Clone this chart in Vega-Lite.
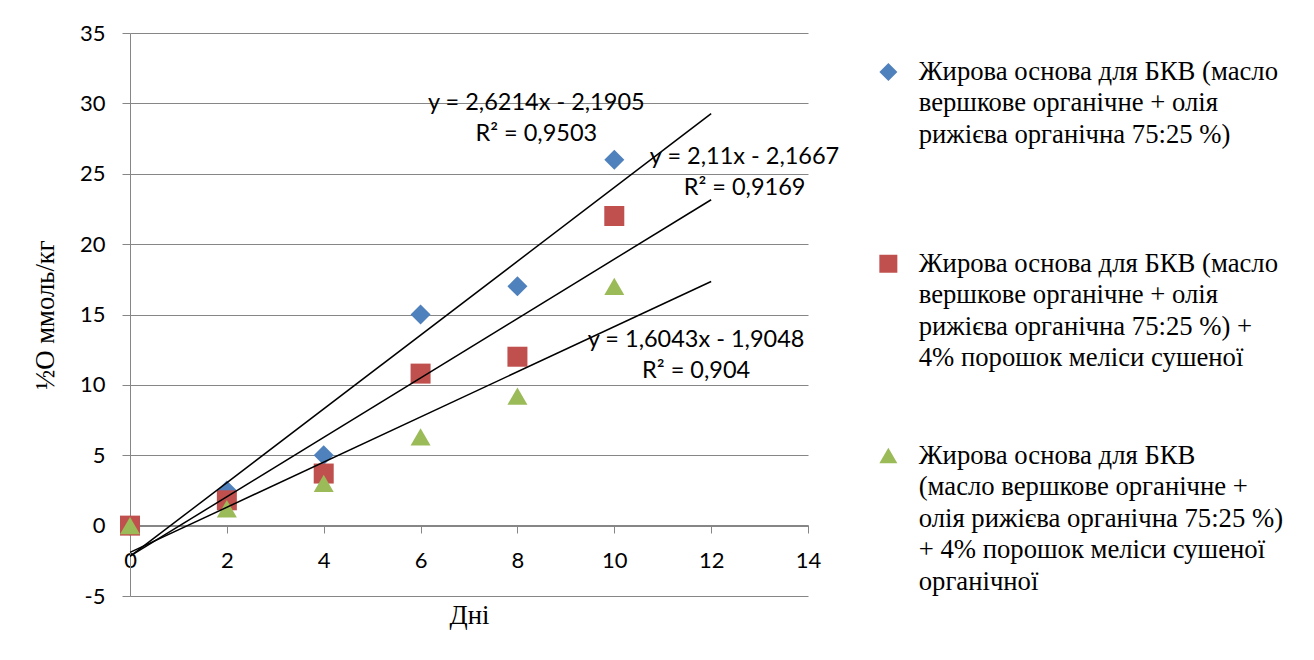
{
  "$schema": "https://vega.github.io/schema/vega-lite/v6.json",
  "width": 678,
  "height": 563,
  "autosize": {"type": "none"},
  "padding": {"left": 130, "top": 33, "right": 506, "bottom": 64},
  "background": "white",
  "config": {
    "view": {"stroke": null},
    "style": {"guide-label": {"lineHeight": 31.5}},
    "legend": {
      "orient": "none",
      "legendX": 745,
      "legendY": 25.6,
      "padding": 0,
      "labelFont": "Liberation Serif",
      "labelFontSize": 26.7,
      "labelColor": "black",
      "labelLimit": 600,
      "labelBaseline": "middle",
      "labelOffset": 17,
      "symbolSize": 324,
      "symbolStrokeWidth": 0,
      "symbolOpacity": 1,
      "rowPadding": 37.8,
      "gridAlign": "all"
    }
  },
  "datasets": {
    "points": [
      {"series": "Жирова основа для БКВ (масло\nвершкове органічне + олія\nрижієва органічна 75:25 %)", "x": 0, "y": 0},
      {"series": "Жирова основа для БКВ (масло\nвершкове органічне + олія\nрижієва органічна 75:25 %)", "x": 2, "y": 2.5},
      {"series": "Жирова основа для БКВ (масло\nвершкове органічне + олія\nрижієва органічна 75:25 %)", "x": 4, "y": 5},
      {"series": "Жирова основа для БКВ (масло\nвершкове органічне + олія\nрижієва органічна 75:25 %)", "x": 6, "y": 15},
      {"series": "Жирова основа для БКВ (масло\nвершкове органічне + олія\nрижієва органічна 75:25 %)", "x": 8, "y": 17},
      {"series": "Жирова основа для БКВ (масло\nвершкове органічне + олія\nрижієва органічна 75:25 %)", "x": 10, "y": 26},
      {"series": "Жирова основа для БКВ (масло\nвершкове органічне + олія\nрижієва органічна 75:25 %) +\n4%  порошок меліси  сушеної", "x": 0, "y": 0},
      {"series": "Жирова основа для БКВ (масло\nвершкове органічне + олія\nрижієва органічна 75:25 %) +\n4%  порошок меліси  сушеної", "x": 2, "y": 1.8},
      {"series": "Жирова основа для БКВ (масло\nвершкове органічне + олія\nрижієва органічна 75:25 %) +\n4%  порошок меліси  сушеної", "x": 4, "y": 3.7},
      {"series": "Жирова основа для БКВ (масло\nвершкове органічне + олія\nрижієва органічна 75:25 %) +\n4%  порошок меліси  сушеної", "x": 6, "y": 10.8},
      {"series": "Жирова основа для БКВ (масло\nвершкове органічне + олія\nрижієва органічна 75:25 %) +\n4%  порошок меліси  сушеної", "x": 8, "y": 12},
      {"series": "Жирова основа для БКВ (масло\nвершкове органічне + олія\nрижієва органічна 75:25 %) +\n4%  порошок меліси  сушеної", "x": 10, "y": 22},
      {"series": " Жирова основа для БКВ\n(масло вершкове органічне +\nолія рижієва органічна 75:25 %)\n+ 4%  порошок меліси  сушеної\nорганічної", "x": 0, "y": 0},
      {"series": " Жирова основа для БКВ\n(масло вершкове органічне +\nолія рижієва органічна 75:25 %)\n+ 4%  порошок меліси  сушеної\nорганічної", "x": 2, "y": 1.2},
      {"series": " Жирова основа для БКВ\n(масло вершкове органічне +\nолія рижієва органічна 75:25 %)\n+ 4%  порошок меліси  сушеної\nорганічної", "x": 4, "y": 3},
      {"series": " Жирова основа для БКВ\n(масло вершкове органічне +\nолія рижієва органічна 75:25 %)\n+ 4%  порошок меліси  сушеної\nорганічної", "x": 6, "y": 6.3},
      {"series": " Жирова основа для БКВ\n(масло вершкове органічне +\nолія рижієва органічна 75:25 %)\n+ 4%  порошок меліси  сушеної\nорганічної", "x": 8, "y": 9.2},
      {"series": " Жирова основа для БКВ\n(масло вершкове органічне +\nолія рижієва органічна 75:25 %)\n+ 4%  порошок меліси  сушеної\nорганічної", "x": 10, "y": 17}
    ],
    "labels": [
      {"label": "y = 2,6214x - 2,1905\nR² = 0,9503", "x": 8.39, "y": 30.04},
      {"label": "y = 2,11x - 2,1667\nR² = 0,9169", "x": 12.69, "y": 26.18},
      {"label": "y = 1,6043x - 1,9048\nR² = 0,904", "x": 11.69, "y": 13.16}
    ]
  },
  "encoding": {
    "x": {
      "field": "x",
      "type": "quantitative",
      "scale": {"domain": [0, 14], "nice": false, "zero": false},
      "axis": {
        "values": [0, 2, 4, 6, 8, 10, 12, 14],
        "offset": -71,
        "grid": false,
        "domainColor": "#868686",
        "tickColor": "#868686",
        "tickSize": 8,
        "labelFont": "Lato",
        "labelFontSize": 22,
        "labelColor": "black",
        "labelPadding": 17,
        "labelFlush": false,
        "labelOverlap": false,
        "title": "Дні",
        "titleFont": "Liberation Serif",
        "titleFontSize": 26.7,
        "titleFontWeight": "normal",
        "titleColor": "black",
        "titleY": 90,
        "titleBaseline": "middle"
      }
    },
    "y": {
      "field": "y",
      "type": "quantitative",
      "scale": {"domain": [-5, 35], "nice": false, "zero": false},
      "axis": {
        "values": [-5, 0, 5, 10, 15, 20, 25, 30, 35],
        "labelExpr": "datum.value < 0 ? '-' + abs(datum.value) : '' + datum.value",
        "grid": true,
        "gridColor": "#868686",
        "domainColor": "#868686",
        "tickColor": "#868686",
        "tickSize": 8,
        "labelFont": "Lato",
        "labelFontSize": 22,
        "labelColor": "black",
        "labelPadding": 17,
        "labelOverlap": false,
        "title": "½O ммоль/кг",
        "titleFont": "Liberation Serif",
        "titleFontSize": 26.7,
        "titleFontWeight": "normal",
        "titleColor": "black",
        "titleX": -85,
        "titleY": 281.5,
        "titleAngle": -90,
        "titleBaseline": "middle",
        "titleAlign": "center"
      }
    }
  },
  "layer": [
    {
      "data": {"name": "points"},
      "mark": {"type": "point", "filled": true, "opacity": 1, "size": 400},
      "encoding": {
        "color": {
          "field": "series",
          "type": "nominal",
          "sort": null,
          "scale": {"range": ["#4F81BD", "#C0504D", "#9BBB59"]},
          "legend": {"title": null, "labelExpr": "slice(split(datum.label + '\\n\\n\\n\\n', '\\n'), 0, 5)"}
        },
        "shape": {
          "field": "series",
          "type": "nominal",
          "sort": null,
          "scale": {"range": ["diamond", "square", "triangle-up"]},
          "legend": {"title": null, "labelExpr": "slice(split(datum.label + '\\n\\n\\n\\n', '\\n'), 0, 5)"}
        }
      }
    },
    {
      "data": {"name": "points"},
      "transform": [{"regression": "y", "on": "x", "groupby": ["series"], "extent": [0, 12]}],
      "mark": {"type": "line", "color": "black", "strokeWidth": 1.5},
      "encoding": {"detail": {"field": "series", "type": "nominal"}}
    },
    {
      "data": {"name": "labels"},
      "mark": {"type": "text", "font": "Lato", "fontSize": 23.5, "lineBreak": "\n", "lineHeight": 31, "align": "center", "baseline": "middle", "color": "black"},
      "encoding": {"text": {"field": "label", "type": "nominal"}}
    }
  ]
}
